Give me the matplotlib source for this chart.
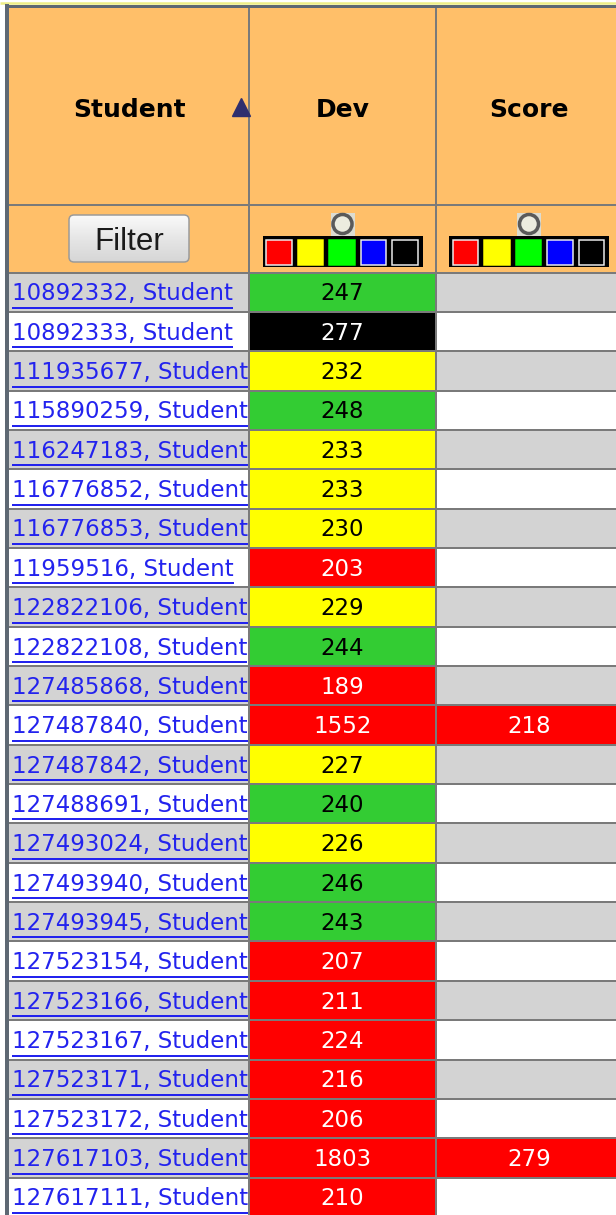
import matplotlib
matplotlib.use("Agg")
import matplotlib.pyplot as plt
import numpy as np
from matplotlib.patches import Rectangle, FancyBboxPatch, Circle

# ---- table content ----
columns = ["Student", "Dev", "Score"]

student_ids = [
    "10892332", "10892333", "111935677", "115890259", "116247183",
    "116776852", "116776853", "11959516", "122822106", "122822108",
    "127485868", "127487840", "127487842", "127488691", "127493024",
    "127493940", "127493945", "127523154", "127523166", "127523167",
    "127523171", "127523172", "127617103", "127617111",
]
dev_values = [247, 277, 232, 248, 233, 233, 230, 203, 229, 244, 189, 1552,
              227, 240, 226, 246, 243, 207, 211, 224, 216, 206, 1803, 210]
dev_levels = ["green", "black", "yellow", "green", "yellow", "yellow", "yellow",
              "red", "yellow", "green", "red", "red", "yellow", "green", "yellow",
              "green", "green", "red", "red", "red", "red", "red", "red", "red"]
score_values = {11: 218, 22: 279}
score_levels = {11: "red", 22: "red"}

picker_colors = ["#FF0000", "#FFFF00", "#00FF00", "#0000FF", "#000000"]
picker_outline = [True, False, False, True, True]

# ---- style ----
W, H = 616, 1215
HEADER_BG = "#FFBF69"
ROW_BG = ["#D3D3D3", "#FFFFFF"]
GRID = "#7A7A7A"
BORDER = "#5E6873"
LEVEL_COLORS = {"red": "#FF0000", "yellow": "#FFFF00", "green": "#33CC33",
                "black": "#000000"}
LEVEL_TEXT = {"red": "white", "black": "white", "yellow": "black",
              "green": "black"}
LINK = "#2323EE"

col_edges = [8, 249, 436, 660]
header_top, header_bottom = 7, 205
filter_bottom = 272.5
row_h = 39.35
row_fs = 16.5


def px(v):
    return v * 72.0 / 100.0


fig = plt.figure(figsize=(W / 100, H / 100), dpi=100)
ax = fig.add_axes([0, 0, 1, 1])
ax.set_xlim(0, W)
ax.set_ylim(H, 0)
ax.axis("off")

n = len(student_ids)
table_bottom = filter_bottom + n * row_h

# header + filter rows
ax.add_patch(Rectangle((col_edges[0], header_top), col_edges[-1] - col_edges[0],
                       filter_bottom - header_top, fc=HEADER_BG, ec="none"))

# data cells
for i in range(n):
    y0 = filter_bottom + i * row_h
    bg = ROW_BG[i % 2]
    ax.add_patch(Rectangle((col_edges[0], y0), col_edges[1] - col_edges[0], row_h,
                           fc=bg, ec="none"))
    ax.add_patch(Rectangle((col_edges[1], y0), col_edges[2] - col_edges[1], row_h,
                           fc=LEVEL_COLORS[dev_levels[i]], ec="none"))
    sc = LEVEL_COLORS[score_levels[i]] if i in score_values else bg
    ax.add_patch(Rectangle((col_edges[2], y0), col_edges[3] - col_edges[2], row_h,
                           fc=sc, ec="none"))

# grid lines
for x in col_edges[1:3]:
    ax.plot([x, x], [header_top, table_bottom], color=GRID, lw=px(2),
            solid_capstyle="butt")
for y in [header_bottom] + [filter_bottom + i * row_h for i in range(n)]:
    ax.plot([col_edges[0], W], [y, y], color=GRID, lw=px(2),
            solid_capstyle="butt")

# outer border
ax.plot([0, W], [2.8, 2.8], color="#EEEE88", lw=px(2.5), solid_capstyle="butt")
ax.plot([6.5, 6.5], [4, H], color=BORDER, lw=px(4), solid_capstyle="butt")
ax.plot([5, W], [5.5, 5.5], color=BORDER, lw=px(3), solid_capstyle="butt")

# header labels
header_x = [130, 342.5, 529]
for label, x in zip(columns, header_x):
    ax.text(x, 117, label, ha="center", va="baseline", fontsize=18,
            fontweight="bold", color="black", family="DejaVu Sans")
ax.plot([241], [106.5], marker="^", ms=13, color="#2E2E6E", mec="#2E2E6E")

# filter button
btn = FancyBboxPatch((69, 215), 120, 47, boxstyle="round,pad=0,rounding_size=5",
                     fc="none", ec="#9A9A9A", lw=px(1.5), zorder=4)
ax.add_patch(btn)
grad = np.linspace(0, 1, 64).reshape(-1, 1)
img = ax.imshow(grad, cmap=matplotlib.colors.LinearSegmentedColormap.from_list(
    "btn", ["#FAFAFA", "#E6E6E6", "#D6D6D6"]), extent=(69, 189, 262, 215),
    aspect="auto", zorder=3)
img.set_clip_path(btn)
ax.set_xlim(0, W)
ax.set_ylim(H, 0)
ax.text(129, 250, "Filter", ha="center", va="baseline", fontsize=22.5,
        color="#1A1A1A", family="Liberation Sans", zorder=5)

# color pickers
for cx in header_x[1:]:
    ax.add_patch(Rectangle((cx - 12, 212.5), 24, 23, fc="#DCDCD2", ec="none"))
    ax.add_patch(Circle((cx, 224), 9.5, fc="#ECECDF", ec="#5A5A5A", lw=px(3.5)))
    left = cx - 80
    ax.add_patch(Rectangle((left, 236), 160, 31, fc="black", ec="none"))
    for k, (c, outl) in enumerate(zip(picker_colors, picker_outline)):
        ax.add_patch(Rectangle((left + 3.5 + k * 31.5, 239.5), 25.5, 25,
                               fc=c, ec="#EEEEEE" if outl else c, lw=px(1.5)))

# row texts
fig.canvas.draw()
renderer = fig.canvas.get_renderer()
for i in range(n):
    yc = filter_bottom + (i + 0.5) * row_h
    base = yc + 8.2
    t = ax.text(12, base, f"{student_ids[i]}, Student", ha="left", va="baseline",
                fontsize=row_fs, color=LINK, family="DejaVu Sans")
    bb = t.get_window_extent(renderer=renderer)
    ax.plot([12, 12 + bb.width], [base + 7.5, base + 7.5], color=LINK,
            lw=px(2), solid_capstyle="butt")
    lvl = dev_levels[i]
    ax.text(header_x[1], base, str(dev_values[i]), ha="center", va="baseline",
            fontsize=row_fs, color=LEVEL_TEXT[lvl], family="DejaVu Sans")
    if i in score_values:
        ax.text(header_x[2], base, str(score_values[i]), ha="center",
                va="baseline", fontsize=row_fs,
                color=LEVEL_TEXT[score_levels[i]], family="DejaVu Sans")

fig.savefig("out.png", dpi=100)
